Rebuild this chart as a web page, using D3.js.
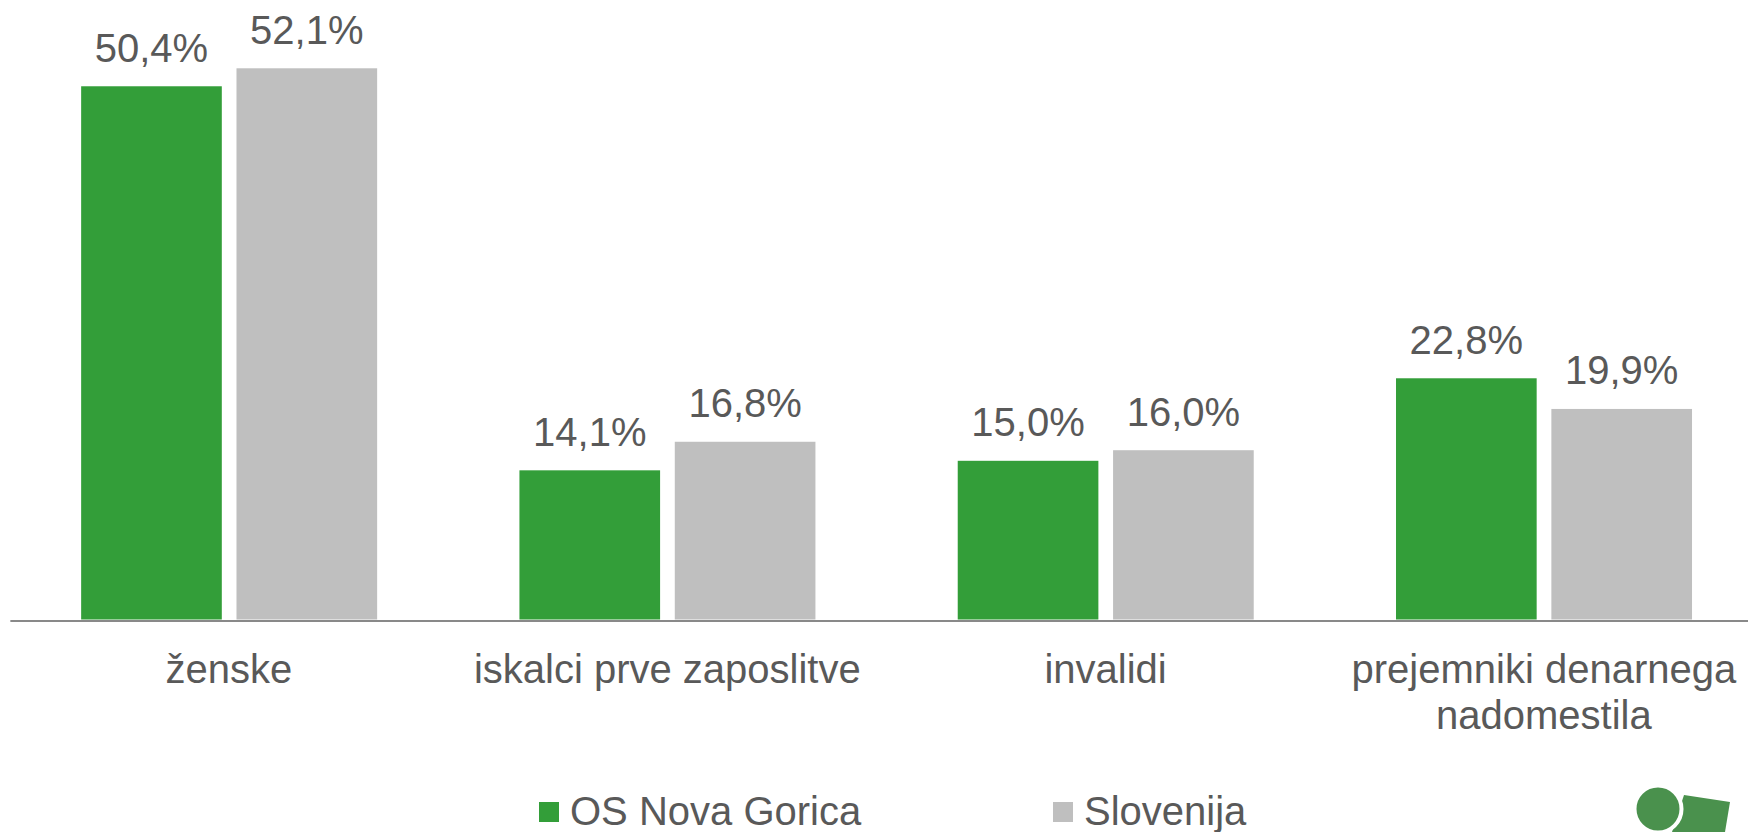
<!DOCTYPE html>
<html>
<head>
<meta charset="utf-8">
<script src="https://cdn.jsdelivr.net/npm/d3@7"></script>
<style>
    body { margin: 0; background: #fff; }
    svg { display: block; }
    text { font-family: "Liberation Sans", Arial, sans-serif; fill: #595959; }
</style>
</head>
<body>
<div id="chart"></div>
<script>
const categories = ['ženske', 'iskalci prve zaposlitve', 'invalidi', 'prejemniki denarnega\nnadomestila'];
const series = ['OS Nova Gorica', 'Slovenija'];
const novaGorica = [50.4, 14.1, 15.0, 22.8];
const slovenija = [52.1, 16.8, 16.0, 19.9];
const colors = ['#339e39', '#bfbfbf'];

const width = 1748, height = 832;
const axisY = 620.5;

let svg = d3.select('#chart').append('svg')
    .attr('width', width)
    .attr('height', height);

// category bands run past the right edge, like in the original
let x0 = d3.scaleBand()
    .domain(categories)
    .range([9.85, 1763]);

let x1 = d3.scaleBand()
    .domain(series)
    .range([71.3, 367.3])
    .paddingInner(0.0946);

let y = d3.scaleLinear()
    .domain([0, 55])
    .range([axisY - 1, axisY - 1 - 55 * 10.58]);

let fmt = v => d3.format('.1f')(v).replace('.', ',') + '%';

let rows = categories.map((c, i) => ({
    category: c,
    values: [
        {series: series[0], value: novaGorica[i]},
        {series: series[1], value: slovenija[i]}
    ]
}));

let groups = svg.selectAll('g.group')
    .data(rows)
    .enter().append('g')
    .attr('class', 'group')
    .attr('transform', d => 'translate(' + x0(d.category) + ',0)');

groups.selectAll('rect')
    .data(d => d.values)
    .enter().append('rect')
    .attr('x', d => x1(d.series))
    .attr('y', d => y(d.value))
    .attr('width', x1.bandwidth())
    .attr('height', d => y(0) - y(d.value))
    .attr('fill', (d, i) => colors[i]);

groups.selectAll('text.value')
    .data(d => d.values)
    .enter().append('text')
    .attr('class', 'value')
    .attr('x', d => x1(d.series) + x1.bandwidth() / 2)
    .attr('y', d => y(d.value) - 24.5)
    .attr('text-anchor', 'middle')
    .style('font-size', '40px')
    .text(d => fmt(d.value));

// x axis: line plus category labels
let xAxis = svg.append('g')
    .attr('transform', 'translate(0,' + axisY + ')')
    .call(d3.axisBottom(x0).tickSize(0).tickSizeOuter(0));

xAxis.select('.domain')
    .attr('stroke', '#898989')
    .attr('stroke-width', 2);

xAxis.selectAll('.tick text').remove();
xAxis.selectAll('.tick').each(function (d) {
    let t = d3.select(this).append('text')
        .attr('y', 62.5)
        .attr('text-anchor', 'middle')
        .style('font-size', '40px');
    d.split('\n').forEach((line, i) => {
        t.append('tspan')
            .attr('x', 0)
            .attr('dy', i === 0 ? 0 : 46)
            .text(line);
    });
});

// legend
let legendX = [539, 1053];
let legend = svg.selectAll('g.legend')
    .data(series)
    .enter().append('g')
    .attr('class', 'legend')
    .attr('transform', (d, i) => 'translate(' + legendX[i] + ',802)');

legend.append('rect')
    .attr('width', 20)
    .attr('height', 20)
    .attr('fill', (d, i) => colors[i]);

legend.append('text')
    .attr('x', 31)
    .attr('y', 23)
    .style('font-size', '40px')
    .text(d => d);

// logo in the bottom right corner
let logo = svg.append('g');
logo.append('path')
    .attr('d', 'M1684,795 L1730,802 L1725,832 L1672,832 Z')
    .attr('fill', '#4a914d');
logo.append('circle')
    .attr('cx', 1658)
    .attr('cy', 809)
    .attr('r', 23.5)
    .attr('fill', '#4a914d')
    .attr('stroke', '#fff')
    .attr('stroke-width', 4);
</script>
</body>
</html>
